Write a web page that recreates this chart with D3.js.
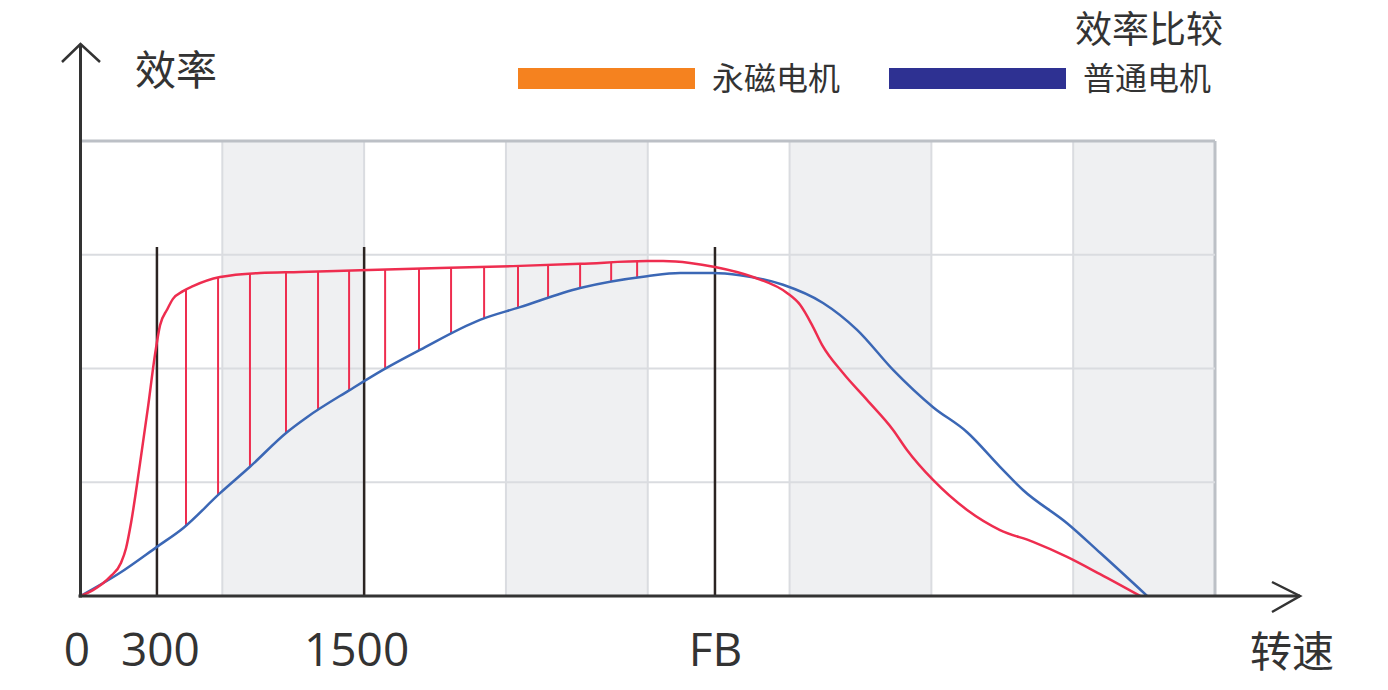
<!DOCTYPE html>
<html><head><meta charset="utf-8">
<script src="https://cdn.jsdelivr.net/npm/d3@7"></script>
<style>
html,body{margin:0;padding:0;background:#fff;}
svg{display:block;}
</style></head>
<body>
<svg id="chart" width="1388" height="690"></svg>
<script>
// ---- data (x: grid-column units 0..8, y: efficiency % 0..100) ----
const pmSpeed = [0,0.088,0.208,0.286,0.321,0.356,0.420,0.476,0.525,0.561,0.610,0.652,0.723,0.793,0.984,1.266,1.548,1.971,2.535,3.050,3.523,3.995,4.108,4.298,4.474,4.742,4.982,5.074,5.158,5.229,5.377,5.546,5.730,5.828,6.012,6.252,6.484,6.717,6.957,7.190,7.472];
const pmEff   = [0,1.3,4.2,7.3,10.5,16.0,29.2,41.5,53.0,59.5,62.9,65.3,67.0,68.1,70.1,71.0,71.2,71.6,72.1,72.5,73.0,73.6,73.6,73.2,72.3,70.1,66.6,64.0,59.6,55.2,49.0,43.1,36.5,32.1,25.5,18.9,14.5,11.9,8.6,4.8,0];
const stdSpeed = [0,0.279,0.539,0.723,0.984,1.195,1.456,1.597,1.900,2.133,2.394,2.817,3.099,3.523,3.995,4.228,4.460,4.651,4.954,5.236,5.476,5.730,6.012,6.252,6.484,6.646,6.957,7.190,7.522];
const stdEff   = [0,5.1,10.8,14.9,22.6,28.4,36.0,39.3,45.3,49.7,54.1,60.7,63.5,67.7,70.3,71.0,71.0,70.5,68.4,64.4,58.5,49.7,41.5,36.0,28.4,23.3,16.0,9.5,0];
const hatchSpeed = [0.744,0.970,1.195,1.449,1.675,1.894,2.148,2.387,2.613,2.846,3.085,3.297,3.523,3.742,3.925];
const markerSpeed = [0.539,2.0,4.474];
const markerTop = 76.7;
const tickValues = [0,0.539,2.0,4.474];
const tickLabels = ["0","300","1500","FB"];
const gridX = [0,1,2,3,4,5,6,7,8];
const gridY = [0,25,50,75,100];
const shadedCols = [1,3,5,7];
const seriesNames = ["永磁电机","普通电机"];
const seriesColors = ["#f5821f","#2e3192"];
const title = "效率比较";
const yTitle = "效率";
const xTitle = "转速";

// ---- drawing ----
const svg = d3.select("#chart");
const x = d3.scaleLinear().domain([0,8]).range([80.5,1215]);
const y = d3.scaleLinear().domain([0,100]).range([596,141]);
const cjk = "'Noto Sans CJK SC','Noto Sans',sans-serif";
const textCol = "#333";

// shaded columns
svg.append("g").selectAll("rect").data(shadedCols).join("rect")
  .attr("x", d => x(d)).attr("width", d => x(d+1)-x(d))
  .attr("y", y(100)).attr("height", y(0)-y(100))
  .attr("fill", "#eff0f2");

// grid
const grid = svg.append("g");
grid.selectAll("line.v").data(gridX.slice(1)).join("line")
  .attr("x1", d => x(d)).attr("x2", d => x(d))
  .attr("y1", y(100)).attr("y2", y(0))
  .attr("stroke", d => d === 8 ? "#bcc0c6" : "#dadce0")
  .attr("stroke-width", d => d === 8 ? 3 : 2);
grid.selectAll("line.h").data(gridY.slice(1)).join("line")
  .attr("x1", x(0)).attr("x2", x(8))
  .attr("y1", d => y(d)).attr("y2", d => y(d))
  .attr("stroke", d => d === 100 ? "#bcc0c6" : "#dadce0")
  .attr("stroke-width", d => d === 100 ? 3 : 2);

// lines
const line = d3.line().x(d => x(d[0])).y(d => y(d[1])).curve(d3.curveMonotoneX);
const pmData = pmSpeed.map((s,i) => [s, pmEff[i]]);
const stdData = stdSpeed.map((s,i) => [s, stdEff[i]]);

// hatch lines (endpoints found on the drawn curves)
const tmpRed = svg.append("path").attr("d", line(pmData)).attr("fill","none").attr("stroke","none");
const tmpBlue = svg.append("path").attr("d", line(stdData)).attr("fill","none").attr("stroke","none");
function yAt(node, px){
  let lo = 0, hi = node.getTotalLength();
  for (let k=0;k<40;k++){
    const mid = (lo+hi)/2;
    const p = node.getPointAtLength(mid);
    if (p.x < px) lo = mid; else hi = mid;
  }
  return node.getPointAtLength((lo+hi)/2).y;
}
const hatchG = svg.append("g");
hatchSpeed.forEach(s => {
  const px = x(s);
  hatchG.append("line").attr("x1",px).attr("x2",px)
    .attr("y1", yAt(tmpRed.node(), px)).attr("y2", yAt(tmpBlue.node(), px))
    .attr("stroke","#ee2d4f").attr("stroke-width",2);
});
tmpRed.remove(); tmpBlue.remove();

// black markers
svg.append("g").selectAll("line").data(markerSpeed).join("line")
  .attr("x1", d => x(d)).attr("x2", d => x(d))
  .attr("y1", y(markerTop)).attr("y2", y(0))
  .attr("stroke","#2b2422").attr("stroke-width",2.5);

svg.append("path").attr("d", line(stdData)).attr("fill","none")
  .attr("stroke","#3b67b5").attr("stroke-width",2.5);
svg.append("path").attr("d", line(pmData)).attr("fill","none")
  .attr("stroke","#ee2d4f").attr("stroke-width",2.5);

// axes with arrows
const axCol = "#333";
svg.append("line").attr("x1", x(0)-2).attr("x2", 1300).attr("y1", y(0)).attr("y2", y(0))
  .attr("stroke", axCol).attr("stroke-width", 3);
svg.append("path").attr("d", `M1272,582 L1300,${y(0)} L1272,612`).attr("fill","none")
  .attr("stroke", axCol).attr("stroke-width", 2.5);
svg.append("line").attr("x1", x(0)).attr("x2", x(0)).attr("y1", y(0)+1.5).attr("y2", 44)
  .attr("stroke", axCol).attr("stroke-width", 3);
svg.append("path").attr("d", `M62,62 L${x(0)},44 L100,62`).attr("fill","none")
  .attr("stroke", axCol).attr("stroke-width", 2.5);

// tick labels
const xAxis = d3.axisBottom(x).tickValues(tickValues)
  .tickFormat((d,i) => tickLabels[i]).tickSize(0).tickPadding(0);
const axG = svg.append("g").attr("transform", `translate(0,${y(0)})`).call(xAxis);
axG.select(".domain").remove();
axG.selectAll("text").attr("y", 70).attr("dy", 0)
  .attr("font-family","'Open Sans','Noto Sans',sans-serif").attr("font-size",46)
  .attr("fill", textCol)
  .attr("dx", (d,i) => [-4,3,-8,0][i]);

// titles
svg.append("text").attr("x",135).attr("y",85).text(yTitle)
  .attr("font-family",cjk).attr("font-size",41).attr("fill",textCol);
svg.append("text").attr("x",1250).attr("y",667).text(xTitle)
  .attr("font-family",cjk).attr("font-size",42).attr("fill",textCol);
svg.append("text").attr("x",1223).attr("y",43).attr("text-anchor","end").text(title)
  .attr("font-family",cjk).attr("font-size",37).attr("fill",textCol);

// legend
const legX = [518, 889];
const leg = svg.append("g");
seriesNames.forEach((n,i) => {
  leg.append("rect").attr("x", legX[i]).attr("y", 68).attr("width", 177).attr("height", 21)
    .attr("fill", seriesColors[i]);
  leg.append("text").attr("x", legX[i]+194).attr("y", 90).text(n)
    .attr("font-family",cjk).attr("font-size",32).attr("fill",textCol);
});
</script>
</body></html>
